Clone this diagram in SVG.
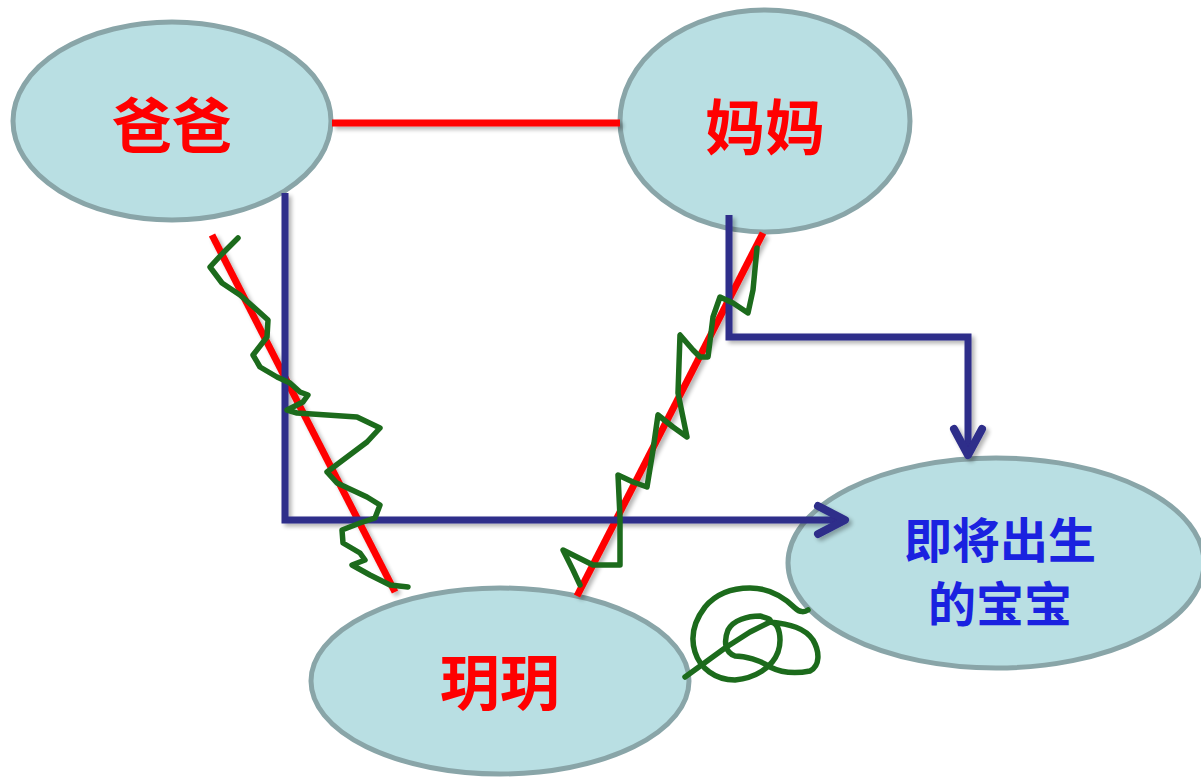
<svg xmlns="http://www.w3.org/2000/svg" width="1201" height="778" viewBox="0 0 1201 778">
<style>
.node{fill:#b9dfe3;stroke:#89a5a8;stroke-width:5}
.lbl{font-family:"Noto Sans CJK SC","Noto Sans",sans-serif;text-anchor:middle;font-weight:700}
.red{fill:#ff0000;font-size:60px}
.blue{fill:#1a22e0;font-size:48px}
.rl{stroke:#ff0000;stroke-width:7;fill:none}
.bl{stroke:#2e2d8a;stroke-width:7;fill:none;stroke-linejoin:miter}
.ah{stroke:#2e2d8a;stroke-width:8;fill:none;stroke-linecap:round;stroke-linejoin:round}
.gr{stroke:#1c6b1c;stroke-width:5.5;fill:none;stroke-linecap:round;stroke-linejoin:round}
</style>
<defs>
<filter id="sh" x="-10%" y="-10%" width="120%" height="120%">
<feGaussianBlur in="SourceAlpha" stdDeviation="2"/>
<feOffset dx="3" dy="3"/>
<feComponentTransfer><feFuncA type="linear" slope="0.3"/></feComponentTransfer>
<feMerge><feMergeNode/><feMergeNode in="SourceGraphic"/></feMerge>
</filter>
</defs>
<rect width="1201" height="778" fill="#ffffff"/>
<g id="node-baba"><ellipse class="node" cx="172" cy="121" rx="159" ry="99"/><text class="lbl red" x="172" y="148">爸爸</text></g>
<g id="node-mama"><ellipse class="node" cx="765" cy="121" rx="145" ry="111"/><text class="lbl red" x="765" y="150">妈妈</text></g>
<g id="node-yueyue"><ellipse class="node" cx="500" cy="681" rx="189" ry="93"/><text class="lbl red" x="500" y="705">玥玥</text></g>
<g id="node-baby"><ellipse class="node" cx="996" cy="563" rx="208" ry="105"/><text class="lbl blue" x="1000" y="558">即将出生</text><text class="lbl blue" x="1000" y="622">的宝宝</text></g>
<g id="connectors" filter="url(#sh)">
<line class="rl" x1="332" y1="123" x2="620" y2="123"/>
<line class="rl" x1="212" y1="235" x2="395" y2="592"/>
<line class="rl" x1="763" y1="233" x2="577" y2="596"/>
<polyline class="bl" points="285,193 285,520 843,520"/>
<polyline class="ah" points="818,506 845,520 818,534"/>
<polyline class="bl" points="729,215 729,337 968,337 968,453"/>
<polyline class="ah" points="954,429 968,455 982,429"/>
</g>
<g id="scribbles">
<path class="gr" d="M238,238 L223,253 L210,267 L222,283 L240,295 L257,310 L268,320 L267,337 L253,355 L260,367 L277,377 L290,383 L300,392 L308,395 L303,402 L287,410 L297,413 L357,417 L380,428 L367,442 L347,457 L327,472 L337,483 L367,497 L380,505 L375,518 L360,523 L342,530 L343,543 L360,553 L365,560 L352,565 L370,575 L390,585 L408,587"/>
<path class="gr" d="M757,248 L753,290 L748,313 L733,303 L720,297 L713,317 L708,357 L700,357 L693,350 L680,335 L678,393 L687,437 L673,427 L658,415 L653,450 L647,487 L633,482 L618,475 L620,517 L620,565 L593,565 L563,550 L573,570 L580,585"/>
<path class="gr" d="M685,677 L703,664 L725,648 L750,632 L770,622 C780,622 782,640 778,652 C772,668 755,678 735,680 C715,680 700,668 695,652 C690,636 695,620 705,607 C715,595 730,588 750,588 C770,588 785,598 795,608 C800,613 805,612 808,610 M770,622 C790,624 805,628 813,640 C820,652 820,666 810,671 C795,674 780,672 770,667 C760,660 745,656 735,656 C724,652 724,640 728,630 C733,620 748,616 760,616 C768,618 772,620 770,622"/>
</g>
</svg>
